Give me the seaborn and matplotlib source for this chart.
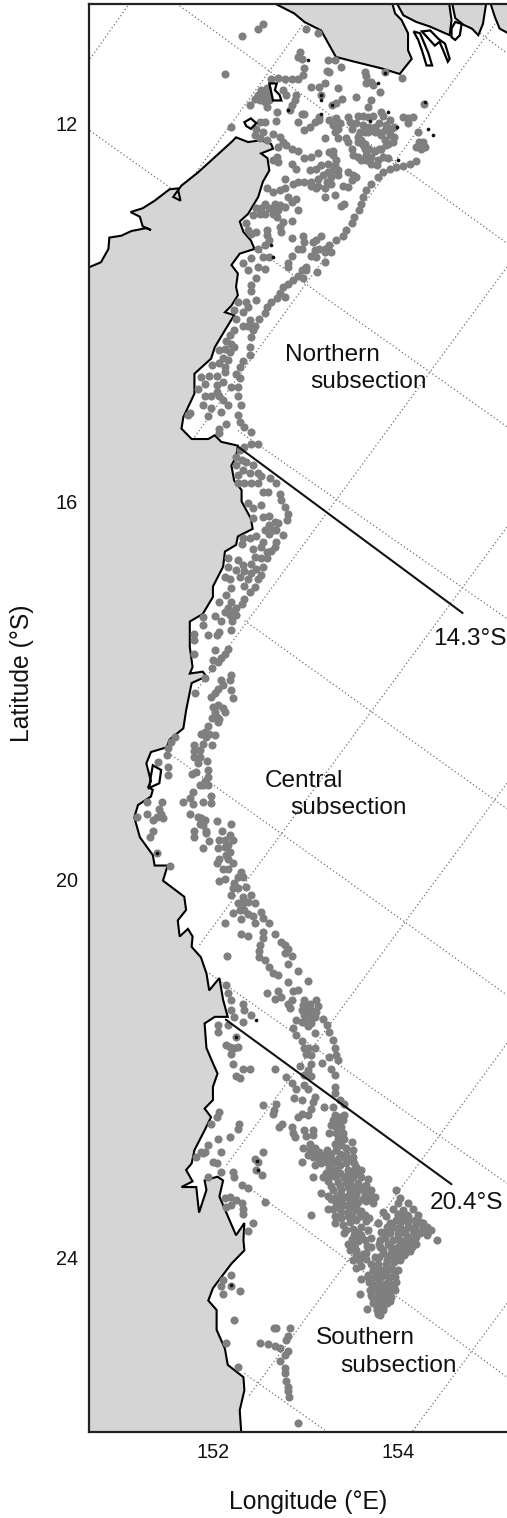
"""Reef locations along the shelf, three subsections"""
import seaborn as sns
import matplotlib.pyplot as plt
import pandas as pd
from matplotlib.patches import Polygon

# coast, longitude / latitude
coast_main = [(150.67,13.52),(150.79,13.47),(150.87,13.33),(150.88,13.21),(151.01,13.19),(151.12,13.14),(151.28,13.11),(151.33,13.13),
    (151.24,13.09),(151.21,12.99),(151.11,12.94),(151.24,12.90),(151.37,12.82),(151.53,12.70),(151.62,12.69),(151.65,12.82),(151.57,12.78),
    (151.66,12.66),(151.84,12.52),(152.02,12.36),(152.20,12.20),(152.25,12.15),(152.38,12.20),(152.52,12.18),(152.63,12.22),(152.65,12.27),
    (152.52,12.32),(152.59,12.37),(152.61,12.50),(152.54,12.62),(152.49,12.78),(152.38,12.96),(152.29,13.04),(152.33,13.15),(152.41,13.24),
    (152.45,13.33),(152.29,13.38),(152.20,13.50),(152.27,13.59),(152.25,13.73),(152.27,13.82),(152.20,13.93),(152.13,14.00),(152.23,14.03),
    (152.13,14.19),(152.02,14.37),(151.98,14.49),(151.80,14.65),(151.80,14.86),(151.68,15.11),(151.66,15.23),(151.77,15.34),(151.95,15.34),
    (152.02,15.30),(152.09,15.37),(152.27,15.41),(152.25,15.53),(152.20,15.62),(152.23,15.78),(152.31,15.88),(152.31,16.00),(152.41,16.18),
    (152.43,16.29),(152.27,16.37),(152.25,16.46),(152.13,16.53),(152.11,16.69),(152.00,16.90),(152.00,17.01),(151.89,17.19),(151.75,17.27),
    (151.75,17.54),(151.78,17.75),(151.75,17.82),(151.89,17.80),(151.93,17.85),(151.77,17.92),(151.71,18.21),(151.68,18.40),(151.53,18.52),
    (151.50,18.60),(151.33,18.65),(151.28,18.77),(151.33,18.96),(151.30,19.02),(151.35,19.05),(151.33,19.12),(151.19,19.21),(151.15,19.34),
    (151.21,19.55),(151.35,19.74),(151.37,19.85),(151.51,19.85),(151.46,20.01),(151.69,20.18),(151.71,20.32),(151.62,20.43),(151.64,20.60),
    (151.73,20.52),(151.78,20.60),(151.77,20.71),(151.87,20.82),(151.93,20.99),(151.96,21.17),(152.07,21.04),(152.11,21.27),(152.16,21.45),
    (152.02,21.45),(151.91,21.52),(151.93,21.78),(152.00,21.94),(152.05,22.05),(152.00,22.19),(152.00,22.33),(151.91,22.42),(151.98,22.51),
    (151.91,22.65),(151.80,22.86),(151.77,23.00),(151.71,23.07),(151.78,23.19),(151.66,23.25),(151.82,23.25),(151.85,23.52),(151.93,23.28),
    (151.91,23.18),(152.05,23.14),(152.11,23.18),(152.07,23.35),(152.25,23.76),(152.34,23.63),(152.33,23.81),(152.34,23.92),(152.20,24.06),
    (152.00,24.32),(151.95,24.45),(152.04,24.55),(152.04,24.76),(152.13,24.96),(152.16,25.13),(152.33,25.26),(152.34,25.40),(152.29,25.61),
    (152.31,25.90),(150.50,25.90),(150.50,13.52)]
land_top_a = [(152.72,10.76),(152.88,10.84),(152.99,10.93),(153.17,11.02),(153.33,11.30),(153.53,11.35),(153.82,11.42),(154.02,11.48),
    (154.15,11.32),(154.11,11.23),(154.11,11.05),(154.04,10.91),(153.97,10.84),(153.93,10.70),(152.60,10.70)]
land_top_b = [(153.97,10.70),(154.06,10.86),(154.20,10.93),(154.35,10.98),(154.56,11.07),(154.58,10.91),(154.55,10.70)]
land_top_c = [(154.58,10.70),(154.62,10.89),(154.71,10.96),(154.80,11.00),(154.87,11.07),(154.92,10.95),(154.96,10.70)]
land_top_d = [(154.99,10.70),(155.05,10.88),(155.10,11.00),(155.25,11.08),(155.25,10.70)]

islands = [
    [(154.17,11.03),(154.22,11.12),(154.26,11.23),(154.31,11.39),(154.37,11.39),(154.33,11.26),(154.27,11.12),(154.24,11.05)],
    [(154.26,11.03),(154.40,11.18),(154.45,11.14),(154.49,11.23),(154.54,11.35),(154.56,11.32),(154.51,11.16),(154.44,11.11),(154.35,11.02)],
    [(154.58,11.00),(154.62,10.93),(154.69,10.95),(154.67,11.07),(154.62,11.12),(154.58,11.09)],
    [(152.61,11.58),(152.69,11.58),(152.67,11.65),(152.72,11.70),(152.74,11.76),(152.65,11.76),(152.63,11.67)],
    [(152.34,11.99),(152.41,11.95),(152.47,12.00),(152.41,12.06),(152.36,12.03)],
    [(151.35,18.79),(151.44,18.84),(151.42,18.98),(151.31,19.03),(151.33,18.90)],
]

# reefs north of 14.3 S
reefs_top = [(152.54,10.95),(152.49,11.00),(152.31,11.08),(152.13,11.48),(153.01,11.00),(153.14,11.05),(152.94,11.25),(152.92,11.30),(152.96,11.32),
    (153.24,11.33),(153.32,11.33),(153.38,11.41),(153.23,11.45),(153.26,11.46),(152.99,11.42),(152.97,11.49),(152.92,11.53),(152.85,11.53),(152.78,11.53),
    (152.70,11.52),(152.63,11.53),(153.64,11.46),(153.65,11.50),(153.86,11.46),(154.04,11.52),(153.66,11.58),(153.73,11.60),(153.71,11.56),(153.81,11.67),
    (153.21,11.58),(153.15,11.62),(153.06,11.62),(153.35,11.63),(153.17,11.70),(153.55,11.72),(153.40,11.74),(153.71,11.76),(153.33,11.79),(153.29,11.81),
    (153.68,11.83),(154.28,11.80),(152.90,11.70),(152.89,11.76),(152.85,11.81),(152.83,11.86),(152.76,11.65),(152.79,11.70)]
reefs_islands = [(152.49,11.70),(152.54,11.72),(152.59,11.69),(152.45,11.74),(152.51,11.76),(152.56,11.78),(152.61,11.76),(152.58,11.83),(152.52,11.65),
    (152.58,11.63),(152.40,11.81),(152.69,11.88),(152.20,12.04),(152.68,11.98),(152.56,11.99),(152.51,11.99),(152.47,12.06),(152.54,12.09),(152.45,12.13),
    (152.51,12.16),(152.58,12.18),(152.65,12.11),(152.72,12.15),(152.76,12.20),(152.79,12.23),(152.85,12.27),(152.92,12.29),(152.70,12.25),(152.69,12.36),
    (152.65,12.39),(152.70,12.41),(152.85,12.43),(152.90,12.48)]
reefs_north_mid = [(152.96,11.90),(152.99,11.90),(152.92,11.99),(152.99,12.07),(153.05,12.04),(153.10,11.99),(153.15,11.93),(153.15,11.97),(153.26,11.97),
    (153.33,11.95),(153.30,12.02),(153.35,12.06),(153.32,12.09),(153.37,12.00),(153.46,11.93),(153.48,11.99),(153.50,12.06),(153.55,12.00),(153.57,11.92),
    (153.62,11.92),(153.68,11.93),(153.73,11.92),(153.82,11.88),(153.84,11.92),(153.91,11.97),(153.80,12.00),(153.87,12.02),(153.86,12.07),(153.93,12.06),
    (153.62,12.02),(153.69,12.04),(153.75,12.04),(153.59,12.09),(153.64,12.09),(153.78,12.09),(153.57,12.15),(153.60,12.18),(153.64,12.22),(153.57,12.20),
    (153.68,12.09),(153.75,12.09),(153.82,12.13),(153.86,12.18),(153.87,12.23),(153.80,12.27),(153.75,12.29),(153.69,12.27),(153.64,12.27),(153.62,12.23),
    (153.91,12.13),(153.96,12.15),(153.95,12.20),(153.89,12.22),(153.96,12.04),(154.11,12.00),(154.05,11.93),(154.16,11.93),(154.11,11.95),(154.22,12.09),
    (154.27,12.20),(154.29,12.25),(154.20,12.25),(154.25,12.27),(154.23,12.20),(153.21,12.16),(153.35,12.16),(153.44,12.16),(153.46,12.20),(153.50,12.27),
    (153.30,12.29),(153.26,12.30),(153.51,12.34),(153.57,12.36),(153.60,12.39),(153.66,12.39),(153.71,12.43),(153.77,12.44),(153.71,12.36),(153.66,12.34),
    (153.78,12.39),(153.84,12.36),(153.89,12.37),(153.82,12.27),
    (152.99,12.37),(153.06,12.36),(153.14,12.32),(153.30,12.34),(153.33,12.39),(153.24,12.43),(153.32,12.44),(153.17,12.44),(153.12,12.48),(153.05,12.50),
    (153.30,12.50),(153.35,12.50),(153.24,12.52),(153.19,12.55),(153.28,12.57),(153.35,12.55),(153.14,12.59),(153.06,12.62),(152.99,12.62),(152.92,12.62),
    (152.87,12.64),(153.14,12.66),(153.06,12.66),(153.23,12.62),(153.28,12.64),(153.21,12.69),(153.12,12.69),(153.46,12.52),(153.51,12.55),(153.55,12.57),
    (153.50,12.60),(153.41,12.66),(153.46,12.67),(153.32,12.76),(153.21,12.78),(153.42,12.86),(153.39,12.88)]
reefs_north_low = [(152.78,12.59),(152.78,12.69),(152.72,12.71),(152.65,12.73),(152.59,12.69),(152.81,12.78),(152.90,12.80),(152.85,12.83),(152.56,12.85),
    (152.67,12.85),(152.72,12.87),(152.78,12.89),(152.92,12.92),(152.61,12.90),(152.52,12.90),(152.47,12.90),(152.43,12.97),(152.51,12.96),(152.56,12.96),
    (152.65,12.92),(152.70,12.92),(152.69,12.99),(152.65,12.96),(152.76,13.04),(152.72,13.10),(152.74,13.15),(152.85,13.03),(152.36,13.06),(152.38,13.13),
    (152.41,13.17),(152.47,13.15),(152.58,13.13),(152.59,13.18),(152.61,13.24),(152.56,13.29),(152.49,13.33),(152.85,13.21),(152.97,13.19),(152.99,13.26),
    (152.92,13.33),(152.96,13.33),(153.12,13.24),(153.17,13.19),(153.08,13.26),(152.85,13.40),(152.81,13.48),(152.81,13.52),(152.54,13.41),(152.61,13.41),
    (152.41,13.43),(152.49,13.52),(152.56,13.54),(152.32,13.48),(152.38,13.55),(152.47,13.64),(152.41,13.71),(152.41,13.78),(152.47,13.87),
    (152.27,13.89),(152.36,13.89),(152.38,13.94),(152.33,14.00),(152.23,13.98),(152.25,14.07),(152.40,14.08),(152.38,14.15),(152.33,14.15),
    (152.23,14.19),(152.18,14.24),(152.14,14.30),(152.20,14.33),(152.23,14.37),(152.13,14.39),(152.07,14.40),(152.18,14.42),(152.11,14.48),(152.16,14.50),
    (152.07,14.54),(152.13,14.58),(151.99,14.56),(152.13,14.63),(152.04,14.67),(151.96,14.67),(151.87,14.68),(151.91,14.76),(151.84,14.81),(152.04,14.77),
    (152.11,14.74),(152.20,14.79),(152.04,14.84),(152.07,14.89),(151.91,14.89),(151.98,14.89),(152.11,14.93),(152.16,14.98),(151.89,14.98),(151.98,15.01),
    (151.75,15.07),(151.73,15.09),(151.95,15.10),(152.09,15.05),(152.14,15.18),(152.07,15.23),(152.07,15.28)]
reefs_shelf_north = [(154.20,12.40),(154.13,12.43),(154.05,12.45),(153.98,12.46),(153.91,12.48),(153.84,12.52),(153.78,12.57),(153.71,12.64),(153.66,12.71),
    (153.62,12.78),(153.60,12.85),(153.58,12.92),(153.53,12.99),(153.50,13.06),(153.44,13.13),(153.41,13.19),(153.33,13.24),(153.26,13.29),(153.21,13.33),
    (153.15,13.33),(153.10,13.34),(153.06,13.40),(153.12,13.41),(153.21,13.36),(153.28,13.36),(153.21,13.47),(153.13,13.57),(153.01,13.52),(152.96,13.55),
    (152.92,13.62),(152.87,13.66),(152.81,13.70),(152.76,13.73),(152.72,13.80),(152.78,13.84),(152.97,13.64),(153.01,13.55),(152.69,13.85),(152.63,13.89),
    (152.59,13.94),(152.56,14.01),(152.50,14.07),(152.45,14.14),(152.43,14.19),(152.41,14.26),(152.40,14.37),(152.40,14.45),(152.33,14.52),(152.29,14.58),
    (152.25,14.65),(152.29,14.70),(152.27,14.79),(152.27,14.89),(152.30,14.98),(152.27,15.09),(152.29,15.16),(152.34,15.21),(152.41,15.27),
    (152.41,15.39),(152.49,15.39),(152.34,15.42),(152.29,15.46)]

# reefs of the central stretch
reefs_central_a = [(152.25,15.53),(152.31,15.56),(152.36,15.58),(152.43,15.62),(152.25,15.62),(152.32,15.67),(152.40,15.70),(152.49,15.70),(152.27,15.72),
    (152.52,15.73),(152.62,15.75),(152.27,15.80),(152.34,15.80),(152.41,15.80),(152.49,15.80),(152.68,15.80),(152.54,15.90),(152.60,15.90),(152.72,15.92),
    (152.74,15.99),(152.78,16.06),(152.81,16.13),(152.80,16.20),(152.38,16.02),(152.43,16.07),(152.52,16.04),(152.61,16.15),(152.54,16.16),(152.43,16.18),
    (152.67,16.22),(152.70,16.23),(152.61,16.25),(152.56,16.30),(152.65,16.30),(152.61,16.34),(152.68,16.30),(152.76,16.36),(152.47,16.37),(152.40,16.39),
    (152.32,16.39),(152.31,16.45),(152.54,16.43),(152.68,16.43),(152.43,16.50),(152.52,16.48),(152.63,16.52),(152.58,16.53),(152.67,16.48),(152.45,16.59),
    (152.52,16.60),(152.59,16.60),(152.54,16.69),(152.16,16.60),(152.27,16.62),(152.32,16.67),(152.41,16.66),(152.47,16.71),(152.16,16.69),(152.25,16.73),
    (152.34,16.74),(152.41,16.76),(152.52,16.78),(152.13,16.80),(152.18,16.82),(152.29,16.80),(152.38,16.82),(152.34,16.89),(152.49,16.82),(152.20,16.92),
    (152.45,16.90),(152.40,16.96),(152.14,16.99),(152.07,17.06),(152.34,17.03),(152.31,17.08),(152.20,17.06),(152.25,17.13),(152.16,17.13),(152.13,17.17),
    (152.02,17.21),(152.09,17.26),(152.20,17.17),(152.25,17.20),(152.18,17.20),(151.89,17.22),(151.89,17.31),(152.21,17.26),(152.20,17.36),(152.07,17.38),
    (152.04,17.41),(151.95,17.41),(151.80,17.40),(151.80,17.47),(152.02,17.57),(152.16,17.56),(152.13,17.61),(152.09,17.66),(152.00,17.68),(152.05,17.70),
    (151.99,17.76),(151.80,17.61),(152.20,17.84),(152.18,17.89),(152.09,17.89),(152.11,17.94),(152.05,17.98),(152.02,18.03),(151.98,18.07),(152.20,17.99),
    (152.22,18.08),(151.91,17.87),(151.81,18.03)]
reefs_central_b = [(152.00,18.17),(152.05,18.15),(152.11,18.18),(152.13,18.23),(152.02,18.23),(152.04,18.28),(151.99,18.29),(152.07,18.30),(152.05,18.33),
    (151.95,18.37),(151.91,18.44),(151.87,18.46),(151.96,18.46),(152.02,18.47),(151.93,18.49),(151.89,18.56),(151.99,18.58),(151.80,18.58),(151.80,18.64),
    (151.86,18.63),(151.80,18.70),(151.86,18.70),(151.94,18.74),(151.84,18.77),(151.77,18.88),(151.82,18.86),(151.95,18.84),(151.95,18.91),(151.91,18.96),
    (151.86,19.00),(151.89,19.00),(151.95,19.00),(151.78,19.07),(151.98,19.12),(151.75,19.14),(151.68,19.18),(151.78,19.20),(151.89,19.18),(151.98,19.19),
    (151.59,18.49),(151.55,18.54),(151.51,18.61),(151.50,18.68),(151.51,18.81),(151.41,18.76),(151.51,18.89),(151.45,19.18),(151.29,19.18),(151.42,19.25),
    (151.44,19.30),(151.29,19.31),(151.39,19.34),(151.35,19.37),(151.46,19.35),(151.18,19.34),(151.35,19.49),(151.32,19.55),(151.75,19.30),(151.84,19.34),
    (151.87,19.35),(151.91,19.37),(151.86,19.41),(151.89,19.42),(152.04,19.38),(152.20,19.41),(151.93,19.48),(151.80,19.49),(151.80,19.55),(151.93,19.51),
    (152.10,19.49),(152.18,19.53),(152.22,19.58),(152.07,19.58),(152.13,19.58),(151.96,19.59),(152.16,19.63),(151.89,19.66),(152.05,19.66),(152.13,19.65),
    (152.18,19.71),(152.14,19.74),(152.07,19.78),(152.04,19.82),(152.16,19.78),(152.22,19.82),(152.11,19.89),(152.16,19.89),(152.13,19.99),(152.07,20.01),
    (151.54,19.85),(151.39,19.72)]
reefs_central_c = [(152.30,19.92),(152.27,19.97),(152.32,19.97),(152.23,20.04),(152.36,20.08),(152.22,20.09),(152.27,20.09),(152.20,20.16),(152.41,20.16),
    (152.32,20.18),(152.27,20.25),(152.32,20.25),(152.38,20.24),(152.45,20.25),(152.22,20.35),(152.29,20.32),(152.34,20.32),(152.38,20.36),(152.43,20.38),
    (152.52,20.34),(152.54,20.41),(152.13,20.46),(152.30,20.42),(152.45,20.46),(152.61,20.46),(152.54,20.55),(152.67,20.57),(152.30,20.57),(152.38,20.59),
    (152.54,20.62),(152.51,20.69),(152.74,20.66),(152.78,20.69),(152.81,20.73),(152.50,20.75),(152.15,20.81),(152.50,20.82),(152.78,20.78),(152.85,20.81)]

# reefs south of 20.4 S
reefs_south_a = [(152.56,20.85),(152.61,20.92),(152.65,20.99),(152.70,21.01),(152.81,20.89),(152.92,20.97),(153.03,21.07),(152.81,21.08),(152.87,21.18),
    (152.92,21.17),(152.59,21.20),(152.70,21.18),(152.67,21.26),(152.74,21.24),(152.85,21.27),(152.81,21.31),(152.83,21.36),(152.99,21.27),(152.97,21.33),
    (153.12,21.27),(153.14,21.34),(153.05,21.31),(152.96,21.38),(153.01,21.38),(153.06,21.38),(153.12,21.40),(152.99,21.43),(153.05,21.45),(153.10,21.45),
    (152.90,21.48),(152.96,21.50),(152.99,21.50),(153.06,21.52),(153.03,21.55),(153.19,21.47),(153.23,21.54),(153.26,21.61),(153.30,21.70),(153.32,21.78),
    (153.33,21.85),(153.26,21.87),(153.35,21.91),(152.87,21.57),(152.90,21.64),(153.10,21.62),(152.96,21.71),(152.99,21.78),(153.03,21.78),(153.10,21.78),
    (153.01,21.84),(153.06,21.85),(153.18,21.94),(153.06,21.95),(152.94,21.97),(153.03,22.01),(152.99,22.07),(153.06,22.08),(153.28,22.00),(153.32,22.07),
    (153.32,22.19),(153.32,22.26),(153.37,22.33),(153.42,22.37)]
reefs_south_coast = [(152.14,21.11),(152.16,21.20),(152.20,21.27),(152.32,21.31),(152.34,21.38),(152.41,21.43),(152.20,21.38),(152.32,21.50),(152.23,21.45),
    (152.05,21.54),(152.05,21.61),(152.16,21.54),(152.25,21.66),(152.18,21.77),(152.23,21.78),(152.20,21.84),(152.14,21.75),(152.27,21.77),(152.22,21.95),
    (152.33,22.00),(152.40,22.00),(152.67,22.00),(152.25,22.08),(152.29,22.10),(152.79,22.09),(152.86,22.15),(152.90,22.21),(152.99,22.17),(153.03,22.21),
    (152.54,22.38),(152.68,22.37),(152.88,22.31),(152.96,22.33),(153.10,22.30),(153.08,22.35),(153.20,22.40),(153.30,22.40),(152.66,22.44),(152.65,22.48),
    (153.06,22.42),(153.03,22.49),(152.96,22.48),(152.92,22.51),(152.07,22.46),(152.04,22.51),(151.98,22.58),(152.28,22.58),(152.27,22.64),(152.18,22.72),
    (152.05,22.74),(151.95,22.80),(152.75,22.58),(152.71,22.61),(152.85,22.62),(152.87,22.68),(152.89,22.72),(152.99,22.65),(153.08,22.65),(153.01,22.71),
    (153.08,22.70),(153.05,22.79)]
reefs_south_b = [(153.32,22.49),(153.37,22.51),(153.42,22.49),(153.30,22.54),(153.35,22.56),(153.41,22.54),(153.28,22.59),(153.33,22.61),(153.39,22.61),
    (153.26,22.68),(153.33,22.68),(153.41,22.68),(153.35,22.74),(153.42,22.74),(153.32,22.79),(153.50,22.77),(153.39,22.81),(153.44,22.84),(153.51,22.86),
    (152.97,22.84),(153.05,22.86),(153.10,22.84),(153.15,22.88),(153.23,22.86),(153.33,22.86),(153.03,22.91),(153.08,22.93),(153.14,22.93),(153.19,22.93),
    (153.26,22.95),(153.35,22.95),(153.41,22.93),(153.51,22.93),(152.96,22.99),(153.10,23.02),(153.17,23.00),(153.23,22.98),(153.30,23.00),(153.37,23.02),
    (153.44,23.00),(153.53,23.00),(153.26,23.05),(153.33,23.07),(153.46,23.07),(153.53,23.07),(153.60,23.07),(153.08,23.14),(153.19,23.14),(153.26,23.14),
    (153.33,23.14),(153.42,23.14),(153.51,23.14),(153.60,23.14),(153.68,23.16),(153.24,23.19),(153.35,23.20),(153.48,23.19),(153.57,23.21),(153.66,23.23),
    (153.71,23.28),(153.17,23.31),(153.30,23.28),(153.39,23.28),(153.48,23.30),(153.57,23.28),(153.64,23.32),(153.75,23.35),(153.24,23.34),(153.33,23.35),
    (153.42,23.36),(153.51,23.37),(153.62,23.38),(153.73,23.42),(153.33,23.42),(153.42,23.44),(153.51,23.44),(153.24,23.48),(153.39,23.51),(153.46,23.51),
    (153.55,23.49),(153.06,23.55),(153.32,23.56),(153.39,23.58),(153.50,23.56),(153.59,23.56),(153.64,23.55),(153.69,23.58),(153.78,23.63),(153.32,23.63),
    (153.41,23.65),(153.51,23.69),(153.60,23.67),(153.42,23.74),(153.53,23.76),(153.60,23.76),(153.46,23.85),(153.53,23.85),(153.64,23.81),(153.71,23.79),
    (153.48,23.92),(153.55,23.92),(153.66,23.95),(153.71,23.88),(153.51,24.02),(153.58,24.02),(153.66,24.01),(153.75,23.99),(153.55,24.11)]
reefs_south_c = [(153.05,22.90),(153.08,22.88),(153.12,22.90),(153.15,22.97),(153.21,22.91),(153.28,22.90),(153.31,22.97),(153.37,22.90),(153.44,22.90),
    (153.48,22.96),(153.55,23.04),(153.55,23.11),(153.46,23.11),(153.37,23.10),(153.30,23.10),(153.22,23.10),(153.44,23.20),(153.53,23.25),(153.62,23.26),
    (153.68,23.28),(153.46,23.25),(153.37,23.24),(153.28,23.24),(153.55,23.33),(153.46,23.34),(153.37,23.32),(153.28,23.38),(153.39,23.39),(153.48,23.40),
    (153.57,23.41),(153.66,23.40),(153.71,23.35),(153.30,23.48),(153.35,23.46),(153.48,23.47),(153.55,23.46),(153.60,23.50),(153.46,23.56),(153.55,23.60),
    (153.66,23.61),(153.48,23.62),(153.44,23.70),(153.57,23.72),(153.68,23.70),(153.50,23.80),(153.57,23.82),(153.67,23.87),(153.55,23.97),(153.62,23.96),
    (153.60,24.08),(153.71,24.06)]
reefs_south_fan = [(153.98,23.28),(154.02,23.37),(154.11,23.42),(154.00,23.42),(153.95,23.48),(153.84,23.51),(154.16,23.48),(154.05,23.49),(153.87,23.56),
    (154.00,23.55),(154.11,23.56),(154.22,23.55),(153.78,23.63),(153.91,23.63),(154.02,23.62),(154.11,23.63),(154.20,23.62),(154.27,23.63),(154.32,23.67),
    (154.36,23.70),(154.42,23.81),(153.82,23.72),(153.91,23.70),(154.05,23.70),(154.16,23.70),(154.25,23.72),(154.32,23.76),(153.86,23.79),(154.00,23.78),
    (154.11,23.78),(154.20,23.78),(153.80,23.85),(153.89,23.85),(154.02,23.85),(154.13,23.85),(154.20,23.85),(153.84,23.92),(153.95,23.92),(154.05,23.92),
    (154.13,23.93),(153.80,23.99),(153.89,23.99),(153.98,23.99),(154.07,23.97),(153.78,24.06),(153.87,24.06),(153.96,24.04),(153.75,24.13),(153.84,24.13),
    (153.93,24.11),(154.00,24.13),(153.68,24.18),(153.78,24.20),(153.87,24.18),(153.96,24.18),(153.60,24.22),(153.69,24.25),(153.80,24.27),(153.89,24.25),
    (153.98,24.25),(153.75,24.32),(153.84,24.32),(153.93,24.32),(153.96,24.32),(153.59,24.38),(153.71,24.39),(153.80,24.39),(153.89,24.39),(153.75,24.46),
    (153.84,24.46),(153.91,24.45),(153.67,24.54),(153.77,24.53),(153.84,24.53),(153.78,24.59)]
reefs_south_lobe = [(153.73,24.13),(153.81,24.13),(153.88,24.13),(153.95,24.13),(153.68,24.20),(153.75,24.20),(153.82,24.20),(153.90,24.20),(153.97,24.20),
    (153.72,24.27),(153.79,24.27),(153.86,24.27),(153.93,24.27),(153.70,24.34),(153.77,24.34),(153.84,24.34),(153.91,24.34),(153.97,24.34),(153.72,24.41),
    (153.79,24.41),(153.86,24.41),(153.93,24.41),(153.73,24.48),(153.81,24.48),(153.88,24.48),(153.77,24.55),(153.84,24.55),(153.81,24.60),
    (153.88,23.67),(153.95,23.67),(154.02,23.67),(154.11,23.67),(154.18,23.67),(154.27,23.67),(154.33,23.69),(153.84,23.74),(153.91,23.74),(154.00,23.74),
    (154.08,23.74),(154.17,23.74),(154.24,23.74),(154.31,23.74),(153.81,23.81),(153.95,23.81),(154.02,23.81),(154.09,23.81),(154.17,23.81),(153.81,23.88),
    (153.93,23.88),(154.00,23.88),(154.08,23.88),(154.15,23.88),(153.84,23.95),(153.93,23.95),(154.00,23.95),(154.08,23.95),(153.88,24.02),(153.95,24.02),
    (154.02,24.02),(154.00,23.53),(154.05,23.53),(154.10,23.55),(153.98,23.60),(154.05,23.60),(154.11,23.60),(154.18,23.60),(154.24,23.62)]
reefs_south_far = [(151.89,22.89),(151.87,22.88),(151.91,22.88),(151.82,22.93),(152.09,22.88),(152.00,22.98),(152.04,23.00),(152.09,23.09),(151.95,23.14),
    (152.22,23.09),(152.23,23.14),(152.31,23.23),(152.38,23.26),(152.56,23.41),(152.54,22.88),(152.45,22.95),(152.49,22.98),(152.47,23.07),(152.53,23.12),
    (152.13,23.37),(152.18,23.36),(152.25,23.39),(152.31,23.42),(152.20,23.44),(152.14,23.46),(152.33,23.48),(152.43,23.63),(152.38,23.71),(152.32,23.53),
    (152.20,24.18),(152.11,24.23),(152.09,24.30),(152.20,24.30),(152.29,24.35),(152.11,24.38),(152.23,24.66),(152.14,24.90),
    (152.68,24.74),(152.66,24.74),(152.83,24.74),(152.81,24.82),(152.79,24.87),(152.51,24.90),(152.60,24.91),(152.67,24.93),(152.73,24.95),(152.81,24.98),
    (152.78,25.03),(152.72,25.09),(152.78,25.16),(152.78,25.22),(152.79,25.30),(152.81,25.36),(152.81,25.41),(152.82,25.47),(152.92,25.74),(152.27,25.15)]
reefs_black = [(153.03,11.33),(153.86,11.47),(153.17,11.70),(153.17,11.76),(153.29,11.81),(152.81,11.86),(153.17,11.90),(153.70,11.98),(153.89,11.88),
    (153.99,12.04),(154.00,12.39),(154.33,12.06),(154.38,12.13),(154.29,11.78),(153.78,11.58),(152.65,13.41),(152.63,13.29),(152.47,21.48),(152.25,21.66),
    (152.48,22.97),(152.49,23.07),(152.20,24.29),(151.39,19.72)]

# graticule, one pair of end points per line
grid_lines = [((150.67,11.32),(151.08,10.76)),((151.37,13.13),(153.03,10.88)),((151.80,15.32),(155.05,10.95)),((155.18,13.52),(151.80,18.03)),
    ((155.18,16.27),(151.84,20.71)),((155.18,18.98),(152.13,23.04)),((155.18,21.73),(152.38,25.47)),((155.18,24.48),(154.16,25.83)),
    ((151.64,10.76),(155.18,13.27)),((150.67,12.08),(155.18,15.21)),((154.79,10.98),(155.18,11.26)),((152.27,15.25),(155.18,17.24)),
    ((152.34,17.26),(155.18,19.25)),((151.55,18.68),(155.18,21.22)),((151.96,20.99),(155.18,23.21)),((152.38,23.25),(155.18,25.26)),
    ((152.34,25.22),(153.21,25.82))]
boundary_lon = [[152.27, 154.70], [152.14, 154.58]]
boundary_lat = [[15.42, 17.18], [21.48, 23.22]]
lon_ticks = [152, 154]
lat_ticks = [12, 16, 20, 24]

sns.set_theme(style="white")
plt.rcParams['font.family'] = ['Liberation Sans', 'DejaVu Sans']

reefs = reefs_top + reefs_islands + reefs_north_mid + reefs_north_low + reefs_shelf_north + reefs_central_a + reefs_central_b \
    + reefs_central_c + reefs_south_a + reefs_south_coast + reefs_south_b + reefs_south_c + reefs_south_fan + reefs_south_lobe + reefs_south_far
data = pd.DataFrame(reefs, columns=["lon", "lat"])
black = pd.DataFrame(reefs_black, columns=["lon", "lat"])

fig = plt.figure(figsize=(5.07, 15.18), dpi=100)
ax = fig.add_axes([89 / 507, 86 / 1518, 418 / 507, 1428 / 1518])

for start, end in grid_lines:
    ax.plot([start[0], end[0]], [start[1], end[1]], color="#707070", lw=0.9, ls=(0, (1, 2)), zorder=1)

for outline in [coast_main, land_top_a, land_top_b, land_top_c, land_top_d]:
    ax.add_patch(Polygon(outline, closed=True, facecolor="#d5d5d5", edgecolor="black", lw=1.5, zorder=2))

sns.scatterplot(data=data, x="lon", y="lat", color="#7f7f7f", s=34, linewidth=0, legend=False, zorder=3, ax=ax)
sns.scatterplot(data=black, x="lon", y="lat", color="#111111", s=7, linewidth=0, legend=False, zorder=4, ax=ax)

for outline in islands:
    ax.add_patch(Polygon(outline, closed=True, facecolor="none", edgecolor="black", lw=1.6, zorder=4))

for xs, ys in zip(boundary_lon, boundary_lat):
    ax.plot(xs, ys, color="#111111", lw=1.5, zorder=5)

ax.set_xlim(150.66, 155.18)
ax.set_ylim(25.84, 10.74)
ax.set_xticks(lon_ticks)
ax.set_yticks(lat_ticks)
ax.tick_params(length=0, labelsize=14.3, colors="#111111", pad=8)
ax.tick_params(axis="x", pad=8)
ax.set_xlabel("Longitude (°E)", fontsize=17.8, color="#111111", va="center")
ax.set_ylabel("Latitude (°S)", fontsize=17.8, color="#111111", va="center")
ax.xaxis.set_label_coords(0.524, -0.049)
ax.yaxis.set_label_coords(-0.160, 0.5315)

for side in ["left", "top", "bottom"]:
    ax.spines[side].set_color("#222222")
    ax.spines[side].set_linewidth(1.6)
ax.spines["right"].set_visible(False)

labels = [("Northern", 152.78, 14.52), ("subsection", 153.05, 14.80), ("Central", 152.56, 19.02), ("subsection", 152.84, 19.31),
          ("Southern", 153.11, 24.91), ("subsection", 153.38, 25.21), ("14.3°S", 154.38, 17.52), ("20.4°S", 154.35, 23.48)]
for text, lon, lat in labels:
    ax.text(lon, lat, text, fontsize=17.6, color="#111111", va="baseline", ha="left", zorder=6)

plt.savefig("out.png", dpi=100)
